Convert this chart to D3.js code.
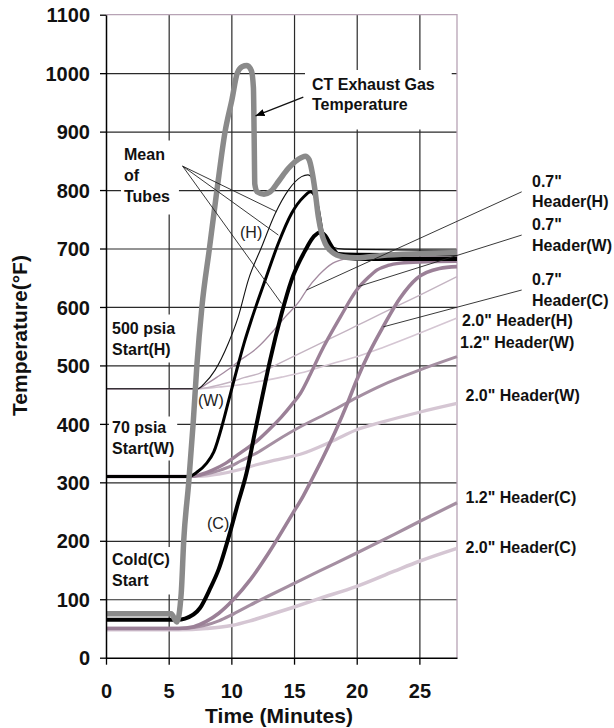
<!DOCTYPE html>
<html>
<head>
<meta charset="utf-8">
<script src="https://cdn.jsdelivr.net/npm/d3@7"></script>
<style>
body{margin:0;background:#fff}
svg{display:block}
text{font-family:"Liberation Sans",Arial,Helvetica,sans-serif}
</style>
</head>
<body>
<svg width="614" height="728"></svg>
<script>
// [minutes, degF]
const gasTemp = [[0,75],[5.2,75],[5.65,61],[6.0,110],[6.2,200],[6.6,300],[6.95,400],[7.25,500],[7.65,600],[8.25,700],[8.85,800],[9.5,900],[10.05,955],[10.47,1000],[10.85,1011],[11.25,1013],[11.6,1004],[11.76,975],[11.82,890],[11.87,810],[12.05,797],[12.6,793],[13.1,797],[13.8,816],[14.5,836],[15.3,852],[15.9,858],[16.2,852],[16.45,830],[16.67,800],[16.94,754],[17.2,726],[17.5,708],[17.87,697],[18.4,689],[18.9,686],[20,684],[22,688],[25,691],[28,693]];

const tubeH = [[0,460],[7.3,460],[7.8,468],[8.7,492],[9.76,538],[10.55,583],[11.35,646],[12.42,703],[13.5,760],[14.55,800],[15.6,823],[16.1,826],[16.5,818],[16.8,790],[17.1,750],[17.5,715],[18,703],[19,699],[28,697]];
const tubeW = [[0,310],[6.6,310],[7.3,318],[8.0,332],[8.6,352],[9.3,400],[9.8,441],[10.4,490],[11.0,537],[11.6,578],[12.7,646],[13.75,709],[14.8,760],[15.8,789],[16.3,797],[16.7,788],[17.0,760],[17.3,722],[17.7,700],[18.3,692],[20,690],[28,689]];
const tubeC = [[0,65],[5.7,65],[6.3,67],[7.5,85],[8.3,118],[9.0,152],[9.9,215],[10.5,262],[11.2,315],[11.9,388],[12.5,450],[13.1,510],[14.0,588],[14.8,646],[15.9,697],[16.6,721],[17.1,728],[17.5,722],[17.9,707],[18.4,692],[19.3,684],[20.5,682],[28,682]];

const hdr07H = [[0,460],[7.3,460],[8,468],[9,482],[10,497],[10.7,509],[11.6,522],[12.3,535],[13.5,563],[14.3,583],[15.5,612],[16,629],[17,655],[18.1,675],[19,682],[20,685],[28,688]];
const hdr12H = [[0,460],[7.3,460],[8.5,464],[10,472],[11,479],[12.3,487],[13.5,500],[15.5,521],[18,547],[20,568],[22,589],[25,620],[28,652]];
const hdr20H = [[0,460],[7.3,460],[9,463],[10.7,467],[12.3,473],[14,480],[15.5,487],[18,503],[20,515],[22,530],[25,555],[28,581]];

const hdr07W = [[0,310],[6.8,310],[7.5,313],[8.5,321],[9.5,332],[10.7,350],[12,370],[13,390],[14,412],[14.9,435],[15.5,452],[16.3,485],[17.1,521],[18.7,583],[20,629],[21,652],[21.6,663],[22.5,671],[23.5,675],[25,677],[28,678]];
const hdr12W = [[0,310],[6.8,310],[8,314],[9,320],[10,328],[10.7,336],[12,350],[13.5,370],[15.5,395],[18,422],[20,445],[22,466],[25,492],[28,515]];
const hdr20W = [[0,310],[6.8,310],[8,311],[9,314],[10.7,322],[12,330],[13.5,338],[15.5,348],[18,370],[20,390],[22,403],[25,420],[28,435]];

const hdr07C = [[0,50],[5.8,50],[7,53],[8,62],[9,76],[10.15,99],[11.5,133],[13,180],[14.9,247],[15.74,277],[16.4,304],[17.3,342],[18.4,392],[19.2,432],[20,475],[21,522],[22.1,566],[23.45,615],[24.8,649],[26.6,666],[28,669]];
const hdr12C = [[0,50],[5.8,50],[7,52],[8,56],[9,63],[10,73],[11.5,90],[13,106],[14.9,126],[17,148],[20,179],[23,211],[25,233],[28,265]];
const hdr20C = [[0,48],[5.8,48],[8,50],[10,55],[11.5,63],[13,73],[14.9,86],[17,101],[20,122],[23,148],[25,165],[28,187]];

const yTicks = [0,100,200,300,400,500,600,700,800,900,1000,1100];
const xTicks = [0,5,10,15,20,25];

const svg = d3.select('svg');
const x = d3.scaleLinear().domain([0,28]).range([106,457]);
const y = d3.scaleLinear().domain([0,1100]).range([657.7,14.7]);
const w = x(28) - x(0), h = y(0) - y(1100);

// grid, drawn as axes with long inner ticks
const gridY = svg.append('g').attr('transform',`translate(${x(0)},0)`)
  .call(d3.axisLeft(y).tickValues(yTicks.filter(d=>d>0 && d<1100)).tickSize(-w).tickFormat(''));
const gridX = svg.append('g').attr('transform',`translate(0,${y(0)})`)
  .call(d3.axisBottom(x).tickValues(xTicks.filter(d=>d>0)).tickSize(-h).tickFormat(''));
[gridY,gridX].forEach(g=>{
  g.select('.domain').remove();
  g.selectAll('.tick line').attr('stroke','#2a2a2a').attr('stroke-width',1.2);
});
svg.append('path')
  .attr('d',`M${x(0)},${y(1100)}H${x(28)}V${y(0)}`)
  .attr('fill','none').attr('stroke','#b7a3b5').attr('stroke-width',1.3);

// white boxes behind notes + note text
const notes = [
  {lines:['CT Exhaust Gas','Temperature'], x:312, y:89.5, dy:20.5, pad:[7,5,17,16]},
  {lines:['Mean','of','Tubes'], x:124, y:160, dy:21, pad:[3,5,9,9]},
  {lines:['500 psia','Start(H)'], x:112, y:334, dy:21, pad:[3,5,4,4]},
  {lines:['70 psia','Start(W)'], x:112, y:433, dy:21, pad:[3,2,3,3]},
  {lines:['Cold(C)','Start'], x:112, y:564.5, dy:21.5, pad:[3,3,5,5]}
];
const boxLayer = svg.append('g');
const lineLayer = svg.append('g');
const annLayer = svg.append('g');
const textLayer = svg.append('g');

notes.forEach(n=>{
  const g = textLayer.append('g');
  let wMax = 0;
  n.lines.forEach((s,i)=>{
    const t = g.append('text').attr('x',n.x).attr('y',n.y+i*n.dy)
      .attr('font-size',16).attr('font-weight','bold').attr('fill','#111').text(s);
    wMax = Math.max(wMax, t.node().getComputedTextLength());
  });
  const top = n.y - 14.5, bottom = n.y + (n.lines.length-1)*n.dy + 3.5;
  boxLayer.append('rect')
    .attr('x',n.x-n.pad[0]).attr('y',top-n.pad[1])
    .attr('width',wMax+n.pad[0]+n.pad[2]).attr('height',bottom-top+n.pad[1]+n.pad[3])
    .attr('fill','#fff');
});

// curves
const line = d3.line().x(d=>x(d[0])).y(d=>y(d[1])).curve(d3.curveMonotoneX);
const series = [
  {d:hdr20C, c:'#d5c6d3', w:3.6},
  {d:hdr20W, c:'#d5c6d3', w:3.2},
  {d:hdr20H, c:'#d5c6d3', w:1.6},
  {d:hdr12C, c:'#a58fa2', w:3.2},
  {d:hdr12W, c:'#a58fa2', w:3.0},
  {d:hdr12H, c:'#c4b4c2', w:1.4},
  {d:hdr07C, c:'#9b8097', w:3.6},
  {d:hdr07W, c:'#9b8097', w:3.4},
  {d:hdr07H, c:'#a48ba0', w:1.3},
  {d:tubeH, c:'#111', w:1.1},
  {d:tubeW, c:'#000', w:3.0},
  {d:tubeC, c:'#000', w:4.0},
  {d:gasTemp, c:'#8a8a8a', w:5.5}
];
lineLayer.selectAll('path').data(series).enter().append('path')
  .attr('d',s=>line(s.d)).attr('fill','none')
  .attr('stroke',s=>s.c).attr('stroke-width',s=>s.w)
  .attr('stroke-linejoin','round');

// axes
const yAxis = svg.append('g').attr('transform',`translate(${x(0)},0)`)
  .call(d3.axisLeft(y).tickValues(yTicks).tickFormat(d3.format('d'))
    .tickSize(6).tickSizeOuter(0).tickPadding(10));
const xAxis = svg.append('g').attr('transform',`translate(0,${y(0)})`)
  .call(d3.axisBottom(x).tickValues(xTicks).tickFormat(d3.format('d'))
    .tickSize(7).tickSizeOuter(0).tickPadding(19));
[yAxis,xAxis].forEach(a=>{
  a.select('.domain').attr('stroke','#000').attr('stroke-width',1.5);
  a.selectAll('.tick line').attr('stroke','#000').attr('stroke-width',1.3);
  a.selectAll('text').attr('font-size',20).attr('font-weight','bold').attr('fill','#111')
    .attr('font-family','"Liberation Sans",Arial,sans-serif');
});
yAxis.selectAll('text').attr('dy','0.36em');

svg.append('text').attr('x',279).attr('y',722.5).attr('text-anchor','middle')
  .attr('font-size',21).attr('font-weight','bold').attr('fill','#111').text('Time (Minutes)');
svg.append('text').attr('transform','translate(27,335.5) rotate(-90)').attr('text-anchor','middle')
  .attr('font-size',21).attr('font-weight','bold').attr('fill','#111').text('Temperature(°F)');

// leaders and arrow (data coords)
svg.append('defs').append('marker').attr('id','ah')
  .attr('viewBox','0 0 10 10').attr('refX',10).attr('refY',5)
  .attr('markerWidth',9).attr('markerHeight',9).attr('markerUnits','userSpaceOnUse')
  .attr('orient','auto')
  .append('path').attr('d','M0,1L10,5L0,9Z').attr('fill','#000');

const leaders = [
  [[6.11,841],[13.6,763]],
  [[6.11,841],[13.75,723]],
  [[6.11,841],[14.0,606]],
  [[33.16,797],[16.0,629]],
  [[33.16,723],[20.13,635]],
  [[33.16,629],[22.12,566]]
];
annLayer.selectAll('line').data(leaders).enter().append('line')
  .attr('x1',d=>x(d[0][0])).attr('y1',d=>y(d[0][1]))
  .attr('x2',d=>x(d[1][0])).attr('y2',d=>y(d[1][1]))
  .attr('stroke','#222').attr('stroke-width',0.9);
annLayer.append('line')
  .attr('x1',x(15.74)).attr('y1',y(959)).attr('x2',x(11.93)).attr('y2',y(927))
  .attr('stroke','#111').attr('stroke-width',1.3).attr('marker-end','url(#ah)');

// small tags
const tags = [
  {t:'(H)', x:240, y:237.5},
  {t:'(W)', x:198, y:406},
  {t:'(C)', x:207, y:529}
];
textLayer.selectAll('.tag').data(tags).enter().append('text')
  .attr('x',d=>d.x).attr('y',d=>d.y).attr('font-size',16).attr('fill','#222').text(d=>d.t);

// right-hand labels
const rightLabels = [
  {t:'0.7"', x:532, y:186.5},
  {t:'Header(H)', x:532, y:206.5},
  {t:'0.7"', x:532, y:230},
  {t:'Header(W)', x:532, y:250.5},
  {t:'0.7"', x:532, y:285},
  {t:'Header(C)', x:532, y:305.5},
  {t:'2.0" Header(H)', x:462, y:326},
  {t:'1.2" Header(W)', x:460, y:348},
  {t:'2.0" Header(W)', x:465.5, y:401},
  {t:'1.2" Header(C)', x:465.5, y:502.5},
  {t:'2.0" Header(C)', x:465.5, y:553}
];
textLayer.selectAll('.rl').data(rightLabels).enter().append('text')
  .attr('x',d=>d.x).attr('y',d=>d.y).attr('font-size',16).attr('font-weight','bold')
  .attr('fill','#111').text(d=>d.t);
</script>
</body>
</html>
